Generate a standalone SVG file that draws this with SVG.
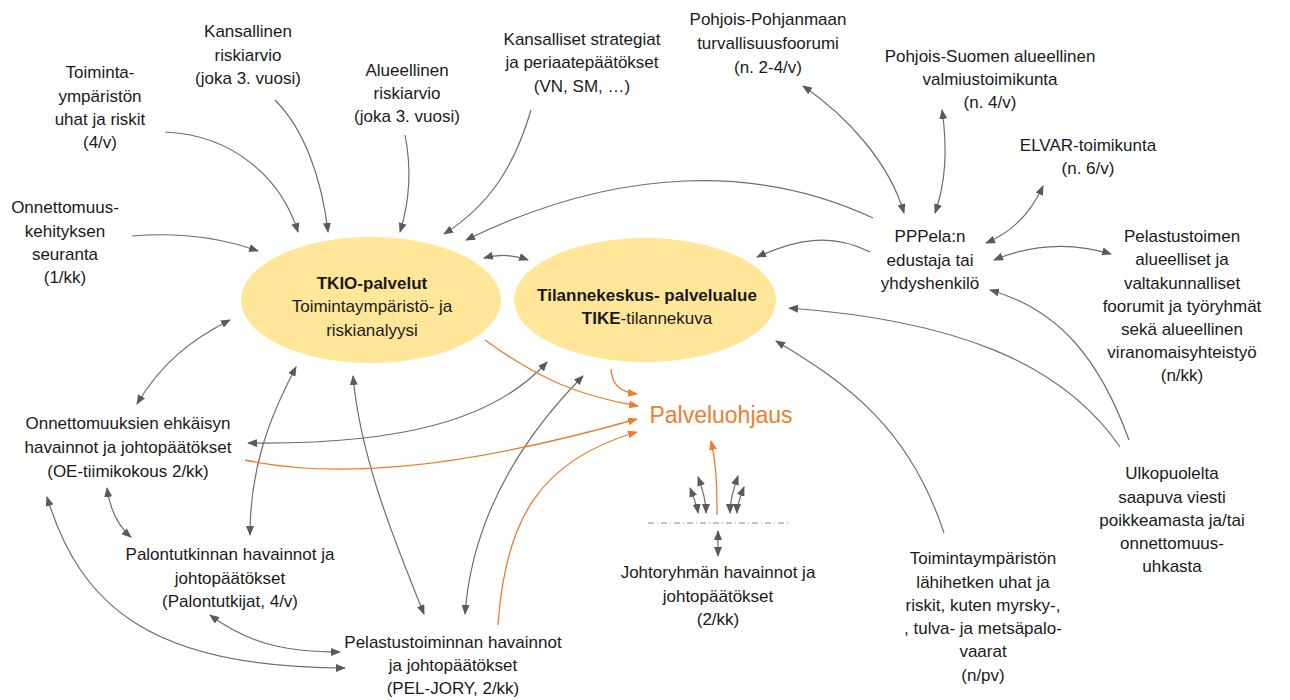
<svg xmlns="http://www.w3.org/2000/svg" width="1290" height="700" viewBox="0 0 1290 700">
<defs>
<marker id="ag" viewBox="0 0 10 8" refX="9" refY="4" markerWidth="10" markerHeight="8" markerUnits="userSpaceOnUse" orient="auto-start-reverse"><path d="M0,0 L10,4 L0,8 z" fill="#5a5a5a"/></marker>
<marker id="ao" viewBox="0 0 10 8" refX="9" refY="4" markerWidth="10" markerHeight="8" markerUnits="userSpaceOnUse" orient="auto-start-reverse"><path d="M0,0 L10,4 L0,8 z" fill="#ED7D31"/></marker>
<style>
text{font-family:"Liberation Sans",Arial,sans-serif;font-size:17px;fill:#1a1a1a;text-anchor:middle}
.b{font-weight:bold}
.po{fill:#ED7D31;font-size:23px}
.g{fill:none;stroke:#6e6e6e;stroke-width:1.2}
.s{marker-end:url(#ag)}
.d{marker-start:url(#ag);marker-end:url(#ag)}
.o{fill:none;stroke:#ED7D31;stroke-width:1.3;marker-end:url(#ao)}
.e{fill:#FFE699}
</style>
</defs>
<rect width="1290" height="700" fill="#fff"/>
<g id="connectors">
<path class="g s" d="M165,132 C235,135 282,180 298,232"/>
<path class="g s" d="M275,100 C305,130 322,180 328,232"/>
<path class="g s" d="M405,135 C412,170 410,200 400,232"/>
<path class="g s" d="M531,110 C515,165 490,205 444,234"/>
<path class="g s" d="M873,218 C760,165 620,165 466,240"/>
<path class="g s" d="M870,252 C830,232 795,240 757,257"/>
<path class="g d" d="M484,258 Q506,252 528,260"/>
<path class="g s" d="M132,236 C180,232 222,238 258,251"/>
<path class="g d" d="M803,86 C850,118 890,165 904,213"/>
<path class="g d" d="M942,110 C948,150 946,182 935,213"/>
<path class="g d" d="M1043,186 C1030,215 1010,233 986,243"/>
<path class="g d" d="M994,260 Q1052,236 1111,254"/>
<path class="g s" d="M1129,440 C1100,360 1060,310 990,290"/>
<path class="g s" d="M1120,447 C1060,360 950,320 789,308"/>
<path class="g s" d="M944,533 C910,430 850,385 776,341"/>
<path class="g d" d="M137,404 C160,365 190,340 230,320"/>
<path class="g d" d="M248,443 C400,445 495,420 547,362"/>
<path class="g d" d="M296,367 C268,420 250,470 250,535"/>
<path class="g d" d="M107,488 C110,510 118,526 131,537"/>
<path class="g d" d="M47,497 C80,605 150,668 345,668"/>
<path class="g d" d="M210,615 C250,645 290,652 340,652"/>
<path class="g d" d="M353,376 C360,455 392,535 424,614"/>
<path class="g d" d="M583,376 C520,440 472,520 465,614"/>
<path class="g d" d="M690,488 C694,498 697,506 698,513"/>
<path class="g d" d="M698,477 C703,490 706,502 706,513"/>
<path class="g d" d="M738,476 C733,490 730,502 730,513"/>
<path class="g d" d="M744,487 C740,497 737,506 737,513"/>
<path class="g d" d="M718,531 L718,556"/>
<path d="M648,523 L790,523" fill="none" stroke="#8a8a8a" stroke-width="1" stroke-dasharray="6,3,1,3"/>
<path class="o" d="M245,460 C330,478 450,472 637,419"/>
<path class="o" d="M485,340 C540,380 580,396 638,406"/>
<path class="o" d="M611,369 C612,385 620,392 637,394"/>
<path class="o" d="M498,625 C505,520 540,460 637,432"/>
<path class="o" d="M717,515 C717,482 716,462 711,441"/>
</g>
<g id="tkio"><ellipse class="e" cx="371" cy="300" rx="130" ry="63"/>
<text x="372" y="289" class="b">TKIO-palvelut</text><text x="372" y="312">Toimintaympäristö- ja</text><text x="372" y="336">riskianalyysi</text></g>
<g id="tike"><ellipse class="e" cx="645" cy="300" rx="131" ry="62"/>
<text x="647" y="301" class="b">Tilannekeskus- palvelualue</text><text x="647" y="324"><tspan class="b">TIKE</tspan>-tilannekuva</text></g>
<g id="n-toiminta"><text x="100" y="78">Toiminta-</text><text x="100" y="102">ympäristön</text><text x="100" y="125">uhat ja riskit</text><text x="100" y="148">(4/v)</text></g>
<g id="n-kansallinen"><text x="248" y="37">Kansallinen</text><text x="248" y="61">riskiarvio</text><text x="248" y="84">(joka 3. vuosi)</text></g>
<g id="n-alueellinen"><text x="407" y="76">Alueellinen</text><text x="407" y="99">riskiarvio</text><text x="407" y="122">(joka 3. vuosi)</text></g>
<g id="n-strategiat"><text x="582" y="45">Kansalliset strategiat</text><text x="582" y="68">ja periaatepäätökset</text><text x="582" y="92">(VN, SM, …)</text></g>
<g id="n-ppforum"><text x="768" y="25">Pohjois-Pohjanmaan</text><text x="768" y="49">turvallisuusfoorumi</text><text x="768" y="73">(n. 2-4/v)</text></g>
<g id="n-psvalmius"><text x="990" y="62">Pohjois-Suomen alueellinen</text><text x="990" y="85">valmiustoimikunta</text><text x="990" y="108">(n. 4/v)</text></g>
<g id="n-elvar"><text x="1088" y="151">ELVAR-toimikunta</text><text x="1088" y="174">(n. 6/v)</text></g>
<g id="n-onnkehitys"><text x="65" y="213">Onnettomuus-</text><text x="65" y="237">kehityksen</text><text x="65" y="260">seuranta</text><text x="65" y="283">(1/kk)</text></g>
<g id="n-pppela"><text x="930" y="242">PPPela:n</text><text x="930" y="266">edustaja tai</text><text x="930" y="289">yhdyshenkilö</text></g>
<g id="n-pelastustoimen"><text x="1182" y="242">Pelastustoimen</text><text x="1182" y="265">alueelliset ja</text><text x="1182" y="289">valtakunnalliset</text><text x="1182" y="312">foorumit ja työryhmät</text><text x="1182" y="335">sekä alueellinen</text><text x="1182" y="358">viranomaisyhteistyö</text><text x="1182" y="381">(n/kk)</text></g>
<g id="n-oe"><text x="128" y="429">Onnettomuuksien ehkäisyn</text><text x="128" y="453">havainnot ja johtopäätökset</text><text x="128" y="477">(OE-tiimikokous 2/kk)</text></g>
<g id="n-palontutkinta"><text x="230" y="560">Palontutkinnan havainnot ja</text><text x="230" y="584">johtopäätökset</text><text x="230" y="607">(Palontutkijat, 4/v)</text></g>
<g id="n-pelastustoiminta"><text x="453" y="648">Pelastustoiminnan havainnot</text><text x="453" y="671">ja johtopäätökset</text><text x="453" y="694">(PEL-JORY, 2/kk)</text></g>
<g id="n-palveluohjaus"><text x="721" y="423" class="po">Palveluohjaus</text></g>
<g id="n-johtoryhma"><text x="718" y="578">Johtoryhmän havainnot ja</text><text x="718" y="602">johtopäätökset</text><text x="718" y="625">(2/kk)</text></g>
<g id="n-lahihetki"><text x="983" y="564">Toimintaympäristön</text><text x="983" y="588">lähihetken uhat ja</text><text x="983" y="611">riskit, kuten myrsky-,</text><text x="983" y="634">, tulva- ja metsäpalo-</text><text x="983" y="657">vaarat</text><text x="983" y="681">(n/pv)</text></g>
<g id="n-ulkopuolelta"><text x="1172" y="479">Ulkopuolelta</text><text x="1172" y="503">saapuva viesti</text><text x="1172" y="526">poikkeamasta ja/tai</text><text x="1172" y="549">onnettomuus-</text><text x="1172" y="572">uhkasta</text></g>
</svg>
